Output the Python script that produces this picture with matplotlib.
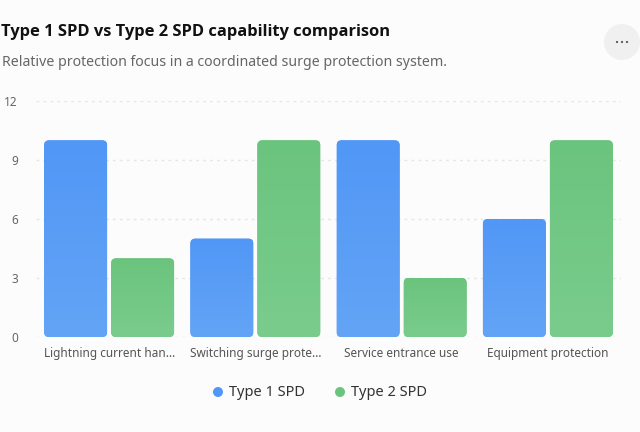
import numpy as np
import matplotlib
matplotlib.use('Agg')
import matplotlib.pyplot as plt
from matplotlib.patches import FancyBboxPatch, Circle
from matplotlib.colors import LinearSegmentedColormap

plt.rcParams['font.family'] = ['Noto Sans', 'DejaVu Sans']

categories = ['Lightning current han…', 'Switching surge prote…',
              'Service entrance use', 'Equipment protection']
type1 = [10, 5, 10, 6]
type2 = [4, 10, 3, 10]
series_names = ['Type 1 SPD', 'Type 2 SPD']
yticks = [0, 3, 6, 9, 12]

bg = '#fcfcfc'
colors = [('#5197f5', '#63a4f6'), ('#6bc47e', '#7acc8d')]

axw = 585
fig = plt.figure(figsize=(6.4, 4.32), dpi=100, facecolor=bg)
ax = fig.add_axes([36 / 640, 1 - 337 / 432, axw / 640, 236 / 432])
ax.set_facecolor(bg)
ax.set_xlim(-0.5, len(categories) - 0.5)
ax.set_ylim(0, 12)

# px -> data scale for rounded corners
catw = axw / len(categories)
xpp = 1 / catw
ypp = 12 / 236
radius = 5 * xpp
bw = 63 * xpp
gap = 4 * xpp

for si, vals in enumerate([type1, type2]):
    c0, c1 = colors[si]
    cmap = LinearSegmentedColormap.from_list('g%d' % si, [c0, c1])
    for i, v in enumerate(vals):
        if si == 0:
            x0 = i - gap / 2 - bw
        else:
            x0 = i + gap / 2
        p = FancyBboxPatch((x0, 0), bw, v,
                           boxstyle='round,pad=0,rounding_size=%f' % radius,
                           mutation_aspect=ypp / xpp,
                           facecolor=c0, edgecolor='none', zorder=3)
        ax.add_patch(p)
        im = ax.imshow(np.linspace(0, 1, 100).reshape(-1, 1), cmap=cmap,
                       extent=(x0, x0 + bw, 0, v), aspect='auto',
                       origin='upper', zorder=3.1)
        im.set_clip_path(p)

ax.set_xlim(-0.5, len(categories) - 0.5)
ax.set_ylim(0, 12)

for y in yticks:
    ax.axhline(y, color='#e6e6e6', lw=1, ls=(0, (2, 3)), zorder=1)

for s in ax.spines.values():
    s.set_visible(False)
ax.set_yticks(yticks)
ax.set_yticklabels([str(t) for t in yticks], color='#666666', fontsize=8.5)
ax.set_xticks(range(len(categories)))
ax.set_xticklabels(categories, color='#555555', fontsize=8.5)
ax.tick_params(length=0)
ax.tick_params(axis='y', pad=13)
ax.tick_params(axis='x', pad=7)

fig.text(1 / 640, 1 - 32 / 432, 'Type 1 SPD vs Type 2 SPD capability comparison',
         fontsize=11.85, fontweight='bold', color='#111111', va='center', ha='left',
         family=['Open Sans', 'DejaVu Sans'])
fig.text(2 / 640, 1 - 62 / 432,
         'Relative protection focus in a coordinated surge protection system.',
         fontsize=10.2, color='#666666', va='center', ha='left')

# menu button
fig.patches.append(Circle((622, 432 - 42), 18, transform=None,
                          facecolor='#f0f0f0', edgecolor='none'))
for dx in (-5, 0, 5):
    fig.patches.append(Circle((622 + dx, 432 - 42), 1.1, transform=None,
                              facecolor='#555555', edgecolor='none'))

# legend
leg_y = 1 - 392 / 432
for name, (c0, c1), xpos in zip(series_names, colors, [218, 340]):
    fig.patches.append(Circle((xpos, 432 - 392), 5, transform=None,
                              facecolor=c0, edgecolor='none'))
    fig.text((xpos + 11) / 640, leg_y, name, fontsize=10.5, color='#333333',
             va='center', ha='left')

fig.savefig('out.png', dpi=100, facecolor=bg)
